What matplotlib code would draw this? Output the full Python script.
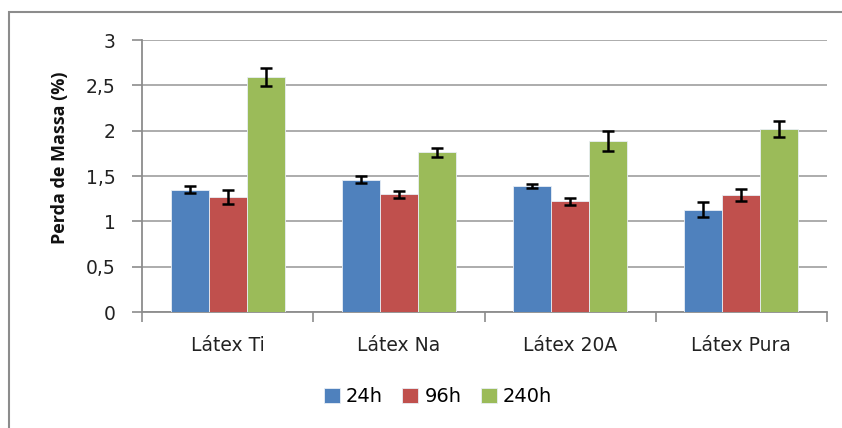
import matplotlib.pyplot as plt
import numpy as np
from matplotlib.patches import Rectangle

categories = ["Látex Ti", "Látex Na", "Látex 20A", "Látex Pura"]
series = ["24h", "96h", "240h"]
values_24h = [1.35, 1.46, 1.39, 1.13]
values_96h = [1.27, 1.30, 1.22, 1.29]
values_240h = [2.59, 1.76, 1.89, 2.02]
err_24h = [0.04, 0.04, 0.02, 0.08]
err_96h = [0.08, 0.04, 0.04, 0.07]
err_240h = [0.10, 0.05, 0.11, 0.09]
colors = ["#4F81BD", "#C0504D", "#9BBB59"]

plt.rcParams["font.family"] = ["DejaVu Sans"]

W, H = 842, 428
fig = plt.figure(figsize=(W / 100, H / 100), dpi=100)
ax = fig.add_axes([142 / W, (H - 312) / H, (827 - 142) / W, (312 - 40) / H])

# outer chart frame
fig.patches.append(Rectangle((9 / W, -0.1), 1.2, (H - 12) / H + 0.1,
                             transform=fig.transFigure, fill=False,
                             edgecolor="#8c8c8c", linewidth=1.5))

x = np.arange(len(categories))
w = 0.222
all_vals = [values_24h, values_96h, values_240h]
all_errs = [err_24h, err_96h, err_240h]
for i, (vals, errs) in enumerate(zip(all_vals, all_errs)):
    ax.bar(x + (i - 1) * w, vals, w, color=colors[i], edgecolor="#e8eef5",
           linewidth=0.6, label=series[i], zorder=3)
    ax.errorbar(x + (i - 1) * w, vals, yerr=errs, fmt="none", ecolor="black",
                elinewidth=1.8, capsize=4, capthick=1.8, zorder=4)

ax.set_xlim(-0.5, len(categories) - 0.5)
ax.set_ylim(0, 3)
ax.set_yticks(np.arange(0, 3.01, 0.5))
ax.set_yticklabels(["0", "0,5", "1", "1,5", "2", "2,5", "3"])
ax.yaxis.grid(True, color="#a6a6a6", linewidth=1.3, zorder=0)
ax.set_axisbelow(True)

ax.set_xticks(x)
ax.set_xticklabels(categories)
ax.set_xticks(np.arange(-0.5, len(categories)), minor=True)
ax.tick_params(axis="x", which="major", length=0, pad=17, labelsize=13.5,
               colors="#222222")
ax.tick_params(axis="x", which="minor", length=7, width=1.2, color="#8c8c8c")
ax.tick_params(axis="y", length=7, width=1.2, color="#8c8c8c", pad=12,
               labelsize=13.5, labelcolor="#222222")

for s in ["top", "right"]:
    ax.spines[s].set_visible(False)
for s in ["left", "bottom"]:
    ax.spines[s].set_color("#8c8c8c")
    ax.spines[s].set_linewidth(1.3)

fig.text(60 / W, (H - 158) / H, "Perda de Massa (%)", rotation=90,
         ha="center", va="center", fontsize=13, fontweight="bold",
         family=["Open Sans", "DejaVu Sans"], color="#111111")

fig.legend(loc="center", bbox_to_anchor=(438 / W, (H - 397) / H), ncol=3,
           frameon=False, fontsize=14, handlelength=0.82, handleheight=0.82,
           handletextpad=0.3, columnspacing=1.0)

fig.savefig("out.png", dpi=100)
